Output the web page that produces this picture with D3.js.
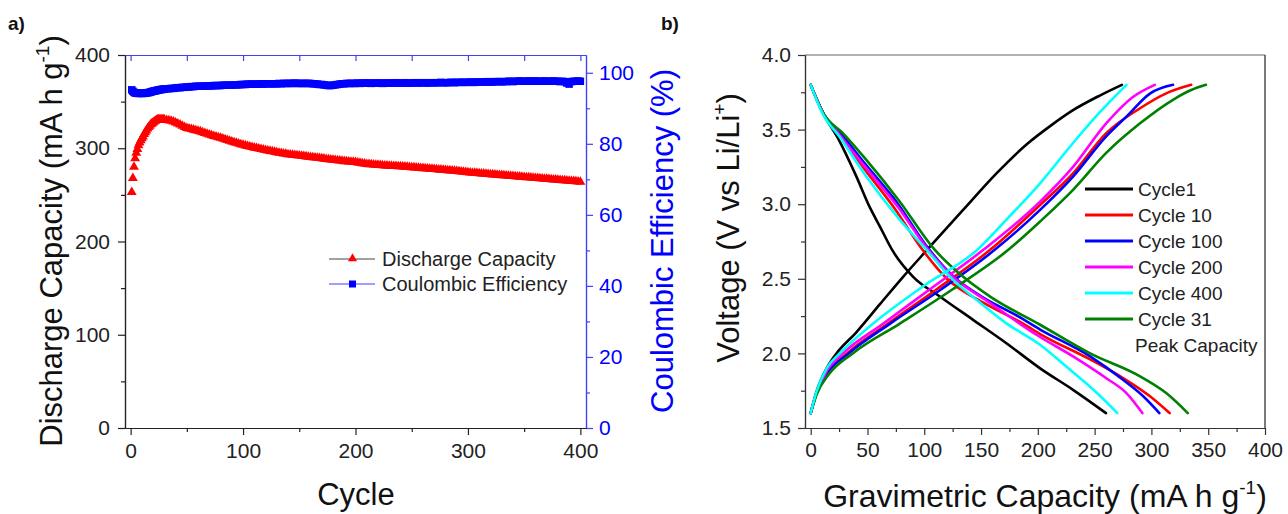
<!DOCTYPE html>
<html><head><meta charset="utf-8">
<script src="https://cdn.jsdelivr.net/npm/d3@7"></script>
<style>
body{margin:0;background:#fff}
svg{display:block;font-family:"Liberation Sans",Arial,sans-serif}
</style></head><body>
<svg id="c" width="1288" height="514"></svg>
<script>
// ---------- Panel a data ----------
// cycle numbers at which a marker is drawn (every cycle up to 30, then every 2nd cycle)
const cycles = d3.range(1, 31).concat(d3.range(32, 401, 2));
const dischargeCapacity = [
 253,268,280,289,295,299,303,306,308.5,310.5,
 312.5,315,317,319,321,322.5,324,325.5,326.5,327.5,
 328.5,329.3,330,330.5,331,331,331,331,330.8,330.5,
 330.2,329.8,329.2,328.4,327.5,326.4,325.2,324.0,322.7,321.6,
 321.0,320.4,319.8,319.2,318.5,317.9,317.0,316.2,315.3,314.5,
 313.8,313.0,312.3,311.6,311.0,310.2,309.4,308.6,307.8,307.0,
 306.3,305.6,304.9,304.2,303.5,302.9,302.3,301.7,301.1,300.5,
 300.0,299.5,299.0,298.5,298.0,297.5,297.0,296.5,296.0,295.5,
 295.1,294.7,294.3,293.9,293.5,293.2,292.9,292.6,292.3,292.0,
 291.7,291.4,291.1,290.8,290.5,290.2,289.9,289.6,289.3,289.0,
 288.7,288.4,288.1,287.8,287.5,287.2,286.9,286.6,286.3,286.0,
 285.8,285.6,285.4,285.2,285.0,284.6,284.2,283.8,283.4,283.0,
 282.8,282.6,282.4,282.2,282.0,281.8,281.6,281.4,281.2,281.0,
 280.9,280.8,280.7,280.6,280.5,280.3,280.1,279.9,279.7,279.5,
 279.3,279.1,278.9,278.7,278.5,278.3,278.1,277.9,277.7,277.5,
 277.3,277.1,276.9,276.7,276.5,276.3,276.1,275.9,275.7,275.5,
 275.2,274.9,274.6,274.3,274.0,273.8,273.6,273.4,273.2,273.0,
 272.8,272.6,272.4,272.2,272.0,271.8,271.6,271.4,271.2,271.0,
 270.8,270.6,270.4,270.2,270.0,269.8,269.6,269.4,269.2,269.0,
 268.8,268.6,268.4,268.2,268.0,267.8,267.6,267.4,267.2,267.0,
 266.8,266.6,266.4,266.2,266.0,265.8,265.6,265.4,265.2,265.0,
 264.8,264.6,264.4,264.2,264.0];
const coulombicEfficiency = [
 95.2,94.8,94.5,94.3,94.3,94.2,94.2,94.2,94.2,94.2,
 94.2,94.2,94.3,94.3,94.4,94.4,94.5,94.6,94.7,94.8,
 94.9,94.9,95.0,95.1,95.1,95.2,95.3,95.3,95.4,95.4,
 95.5,95.5,95.6,95.6,95.7,95.8,95.8,95.9,95.9,96.0,
 96.0,96.1,96.1,96.2,96.2,96.2,96.2,96.3,96.3,96.3,
 96.3,96.4,96.4,96.4,96.4,96.5,96.5,96.5,96.5,96.5,
 96.6,96.6,96.6,96.7,96.7,96.7,96.8,96.8,96.8,96.8,
 96.8,96.8,96.9,96.8,96.9,96.9,96.9,96.9,96.9,96.9,
 97.0,96.9,97.0,97.0,97.0,97.0,97.0,97.1,97.0,97.0,
 97.0,97.0,97.0,97.0,97.0,96.9,96.9,96.8,96.7,96.7,
 96.6,96.5,96.4,96.4,96.5,96.6,96.7,96.8,96.9,96.9,
 97.0,97.0,97.0,97.0,97.0,97.1,97.0,97.1,97.1,97.1,
 97.1,97.0,97.1,97.1,97.1,97.1,97.0,97.1,97.1,97.1,
 97.1,97.1,97.2,97.1,97.1,97.1,97.2,97.1,97.1,97.1,
 97.2,97.2,97.1,97.2,97.2,97.2,97.1,97.2,97.2,97.2,
 97.2,97.2,97.3,97.2,97.2,97.2,97.3,97.3,97.2,97.3,
 97.3,97.3,97.3,97.3,97.3,97.4,97.3,97.3,97.4,97.4,
 97.4,97.4,97.4,97.5,97.4,97.4,97.5,97.5,97.5,97.5,
 97.5,97.5,97.6,97.6,97.5,97.6,97.6,97.7,97.6,97.6,
 97.6,97.7,97.6,97.6,97.7,97.6,97.6,97.6,97.7,97.6,
 97.6,97.6,97.7,97.6,97.6,97.5,97.6,97.5,97.1,96.8,
 97.5,97.6,97.6,97.7,97.6];
const cycleTicksA = [0,100,200,300,400];
const capTicksA = [0,100,200,300,400];
const ceTicksA = [0,20,40,60,80,100];

// ---------- Panel b data: [capacity, voltage] ----------
const cycle1Discharge = [[0,3.8],[11,3.61],[25.6,3.42],[40,3.19],[52,2.98],[61,2.85],[72,2.69],[90,2.515],[114,2.38],[143,2.225],[172,2.07],[202,1.90],[231,1.756],[260,1.6]];
const cycle1Charge = [[0,1.6],[5,1.74],[14,1.9],[22.7,2.0],[40,2.14],[61,2.33],[81,2.51],[102,2.69],[134,2.96],[164,3.21],[190,3.40],[212,3.53],[231,3.63],[255,3.73],[274,3.8]];
const cycle10Discharge = [[0,3.8],[11,3.61],[26,3.46],[47,3.24],[75,2.96],[96,2.72],[120,2.5],[152,2.34],[187,2.2],[202,2.13],[246,1.96],[275,1.835],[299,1.711],[316,1.6]];
const cycle10Charge = [[0,1.6],[5,1.73],[15,1.87],[32,2.0],[68,2.2],[111,2.43],[158,2.694],[202,2.995],[231,3.207],[260,3.475],[290,3.643],[313,3.743],[335,3.8]];
const cycle100Discharge = [[0,3.8],[11,3.61],[27,3.47],[48,3.27],[77,3.0],[101,2.73],[125,2.52],[155,2.36],[180,2.26],[202,2.16],[246,1.98],[275,1.823],[293,1.711],[307,1.6]];
const cycle100Charge = [[0,1.6],[5,1.73],[15,1.87],[33.5,2.0],[70,2.2],[115,2.43],[162,2.694],[202,2.962],[231,3.185],[260,3.453],[278,3.587],[299,3.743],[319,3.8]];
const cycle200Discharge = [[0,3.8],[11,3.61],[26,3.46],[48,3.25],[77,2.98],[103,2.7],[125,2.515],[158,2.337],[202,2.11],[231,1.98],[260,1.835],[278,1.734],[292,1.6]];
const cycle200Charge = [[0,1.6],[5,1.73],[14,1.88],[28.5,2.0],[64,2.2],[105,2.43],[152,2.694],[202,3.017],[231,3.25],[260,3.54],[284,3.72],[303,3.8]];
const cycle400Discharge = [[0,3.8],[11,3.6],[25.6,3.45],[49,3.185],[78.5,2.895],[102,2.694],[122.5,2.515],[146,2.359],[172,2.203],[202,2.058],[225,1.912],[249,1.756],[270,1.6]];
const cycle400Charge = [[0,1.6],[5,1.74],[14,1.9],[25.6,2.0],[55,2.2],[99,2.45],[146,2.69],[174,2.91],[202,3.14],[231,3.41],[255,3.62],[278,3.8]];
const cycle31Discharge = [[0,3.8],[11,3.61],[28.5,3.475],[49,3.297],[78.5,3.017],[108,2.705],[134,2.515],[158,2.381],[202,2.192],[246,2.0],[290,1.846],[313,1.734],[332,1.6]];
const cycle31Charge = [[0,1.6],[5,1.72],[16,1.86],[37,2.0],[78.5,2.2],[125,2.43],[174,2.694],[202,2.884],[231,3.096],[260,3.342],[290,3.542],[319,3.70],[335,3.765],[348,3.8]];
const seriesNames = ["Cycle1","Cycle 10","Cycle 100","Cycle 200","Cycle 400","Cycle 31"];
const seriesColors = ["#000000","#ff0000","#0000ff","#ff00ff","#00ffff","#008000"];
const capTicksB = [0,50,100,150,200,250,300,350,400];
const voltTicksB = [1.5,2.0,2.5,3.0,3.5,4.0];

const svg = d3.select("#c");
const FONT = "'Liberation Sans',Arial,sans-serif";
const TITLE = 31, SUP = 19;

function styleAxis(g, color, textColor, fs){
  g.attr("font-family", FONT).attr("font-size", fs);
  g.select(".domain").attr("stroke", color).attr("stroke-width",1.2);
  g.selectAll(".tick line").attr("stroke", color).attr("stroke-width",1.2);
  g.selectAll(".tick text").attr("fill", textColor);
}
function supLabel(sel, main, sup){
  sel.append("tspan").text(main);
  sel.append("tspan").attr("font-size",SUP).attr("dy",-13).text(sup);
  sel.append("tspan").attr("dy",13).text(")");
}

// ================= Panel a =================
const xA = d3.scaleLinear().domain([-5,405]).range([125,586]);
const yA = d3.scaleLinear().domain([0,400]).range([428,55]);
const yA2 = d3.scaleLinear().domain([0,105]).range([428,55]);
const gA = svg.append("g");
const axBlue = "#4040ff";

gA.append("g").attr("transform","translate(0,55)")
  .call(d3.axisTop(xA).tickValues([0,50,100,150,200,250,300,350,400]).tickSize(-6).tickSizeOuter(0).tickFormat(""))
  .call(g=>styleAxis(g,axBlue,axBlue,20));
gA.append("g").attr("transform","translate(586,0)")
  .call(d3.axisRight(yA2).tickValues([10,30,50,70,90]).tickSize(4).tickSizeOuter(0).tickFormat(""))
  .call(g=>styleAxis(g,axBlue,axBlue,20));
gA.append("g").attr("transform","translate(586,0)")
  .call(d3.axisRight(yA2).tickValues(ceTicksA).tickSize(7).tickSizeOuter(0).tickPadding(6))
  .call(g=>styleAxis(g,axBlue,"#0000ff",21));
gA.append("g").attr("transform","translate(0,428)")
  .call(d3.axisBottom(xA).tickValues([50,150,250,350]).tickSize(4).tickSizeOuter(0).tickFormat(""))
  .call(g=>styleAxis(g,"#222","#222",20));
gA.append("g").attr("transform","translate(0,428)")
  .call(d3.axisBottom(xA).tickValues(cycleTicksA).tickSize(7).tickSizeOuter(0).tickPadding(8))
  .call(g=>styleAxis(g,"#222","#222",21));
gA.append("g").attr("transform","translate(125,0)")
  .call(d3.axisLeft(yA).tickValues([50,150,250,350]).tickSize(4).tickSizeOuter(0).tickFormat(""))
  .call(g=>styleAxis(g,"#222","#222",20));
gA.append("g").attr("transform","translate(125,0)")
  .call(d3.axisLeft(yA).tickValues(capTicksA).tickSize(7).tickSizeOuter(0).tickPadding(8))
  .call(g=>styleAxis(g,"#222","#222",21));

const triangle = d3.symbol().type(d3.symbolTriangle).size(42);
const square = d3.symbol().type(d3.symbolSquare).size(56);
const legTriangle = d3.symbol().type(d3.symbolTriangle).size(36);
const legSquare = d3.symbol().type(d3.symbolSquare).size(49);
gA.append("g").selectAll("path").data(cycles.map((c,i)=>[c,coulombicEfficiency[i]])).join("path")
  .attr("d", square).attr("fill","#0000ff")
  .attr("transform", d=>`translate(${xA(d[0])},${yA2(d[1])})`);
gA.append("g").selectAll("path").data(cycles.map((c,i)=>[c,dischargeCapacity[i]])).join("path")
  .attr("d", triangle).attr("fill","#ff0000")
  .attr("transform", d=>`translate(${xA(d[0])},${yA(d[1])})`);

// legend a
const legA = gA.append("g").attr("font-family",FONT).attr("font-size",20);
legA.append("line").attr("x1",329).attr("x2",375).attr("y1",259).attr("y2",259).attr("stroke","#444").attr("stroke-width",1.2);
legA.append("path").attr("d",legTriangle).attr("fill","#ff0000").attr("transform","translate(352.5,258.5)");
legA.append("text").attr("x",382).attr("y",259).attr("dy","0.36em").attr("fill","#222").text("Discharge Capacity");
legA.append("line").attr("x1",329).attr("x2",375).attr("y1",284).attr("y2",284).attr("stroke","#4040ff").attr("stroke-width",1.2);
legA.append("path").attr("d",legSquare).attr("fill","#0000ff").attr("transform","translate(352.5,284)");
legA.append("text").attr("x",382).attr("y",284).attr("dy","0.36em").attr("fill","#222").text("Coulombic Efficiency");

// titles a
const tA = svg.append("g").attr("font-family",FONT);
const lt = tA.append("text").attr("transform","translate(62,241) rotate(-90)").attr("text-anchor","middle")
  .attr("font-size",TITLE).attr("fill","#111");
supLabel(lt, "Discharge Capacity (mA h g", "-1");
tA.append("text").attr("transform","translate(673,241) rotate(-90)").attr("text-anchor","middle")
  .attr("font-size",TITLE).attr("fill","#0000ff").text("Coulombic Efficiency (%)");
tA.append("text").attr("x",356).attr("y",505).attr("text-anchor","middle").attr("font-size",TITLE).attr("fill","#111").text("Cycle");
tA.append("text").attr("x",8).attr("y",30).attr("font-size",19).attr("font-weight","bold").attr("fill","#111").text("a)");
tA.append("text").attr("x",661).attr("y",30).attr("font-size",19).attr("font-weight","bold").attr("fill","#111").text("b)");

// ================= Panel b =================
const xB = d3.scaleLinear().domain([-5,400]).range([805,1265]);
const yB = d3.scaleLinear().domain([1.5,4.0]).range([428,55]);
const gB = svg.append("g");
const axG = "#333";
gB.append("line").attr("x1",805).attr("x2",1265).attr("y1",55).attr("y2",55).attr("stroke","#666").attr("stroke-width",1.2);
gB.append("line").attr("x1",1265).attr("x2",1265).attr("y1",55).attr("y2",428).attr("stroke","#222").attr("stroke-width",1.2);
gB.append("g").attr("transform","translate(0,428)")
  .call(d3.axisBottom(xB).tickValues([25,75,125,175,225,275,325,375]).tickSize(4).tickSizeOuter(0).tickFormat(""))
  .call(g=>styleAxis(g,axG,"#222",20));
gB.append("g").attr("transform","translate(0,428)")
  .call(d3.axisBottom(xB).tickValues(capTicksB).tickSize(7).tickSizeOuter(0).tickPadding(7))
  .call(g=>styleAxis(g,axG,"#222",21));
gB.append("g").attr("transform","translate(805,0)")
  .call(d3.axisLeft(yB).tickValues([1.75,2.25,2.75,3.25,3.75]).tickSize(4).tickSizeOuter(0).tickFormat(""))
  .call(g=>styleAxis(g,axG,"#222",20));
gB.append("g").attr("transform","translate(805,0)")
  .call(d3.axisLeft(yB).tickValues(voltTicksB).tickSize(7).tickSizeOuter(0).tickPadding(7).tickFormat(d3.format(".1f")))
  .call(g=>styleAxis(g,axG,"#222",21));

const curves = [
  [cycle1Discharge,cycle1Charge],[cycle10Discharge,cycle10Charge],[cycle100Discharge,cycle100Charge],
  [cycle200Discharge,cycle200Charge],[cycle400Discharge,cycle400Charge],[cycle31Discharge,cycle31Charge]
];
const line = d3.line().x(d=>xB(d[0])).y(d=>yB(d[1])).curve(d3.curveMonotoneX);
const drawOrder = [0,1,2,3,5,4];
const gCurves = gB.append("g");
drawOrder.forEach(i=>{
  curves[i].forEach(arr=>{
    gCurves.append("path").attr("d",line(arr)).attr("fill","none").attr("stroke",seriesColors[i])
      .attr("stroke-width",2.6).attr("stroke-linejoin","round").attr("stroke-linecap","round");
  });
});

// legend b
const legB = gB.append("g").attr("font-family",FONT).attr("font-size",19);
seriesNames.forEach((n,i)=>{
  const y = 189 + i*26;
  legB.append("line").attr("x1",1085).attr("x2",1133).attr("y1",y).attr("y2",y).attr("stroke",seriesColors[i]).attr("stroke-width",3);
  legB.append("text").attr("x",1138).attr("y",y).attr("dy","0.36em").attr("fill","#222").text(n);
});
legB.append("text").attr("x",1135).attr("y",345).attr("dy","0.36em").attr("fill","#222").text("Peak Capacity");

// titles b
const tB = svg.append("g").attr("font-family",FONT).attr("fill","#111");
const vt = tB.append("text").attr("transform","translate(739,228) rotate(-90)").attr("text-anchor","middle").attr("font-size",TITLE);
supLabel(vt, "Voltage (V vs Li/Li", "+");
const gt = tB.append("text").attr("x",1045).attr("y",507).attr("text-anchor","middle").attr("font-size",32);
supLabel(gt, "Gravimetric Capacity (mA h g", "-1");
</script>
</body></html>
